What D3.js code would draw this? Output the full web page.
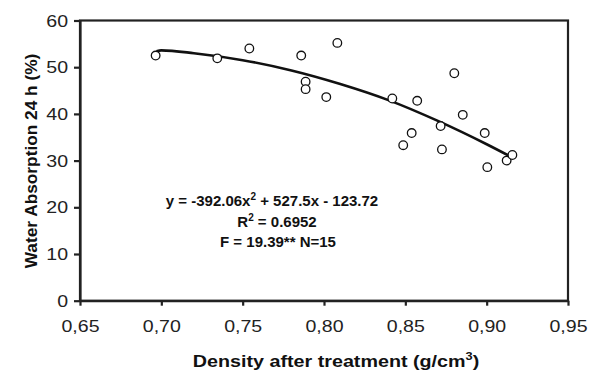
<!DOCTYPE html>
<html>
<head>
  <meta charset="utf-8">
  <title>Water absorption vs density</title>
  <script src="https://cdn.jsdelivr.net/npm/d3@7"></script>
  <style>
    body { margin: 0; background: #fff; }
    svg { display: block; font-family: "Liberation Sans", Arial, sans-serif; }
    .frame { fill: none; stroke: #222; stroke-width: 2.2; }
    .axis path, .axis line { stroke: #222; stroke-width: 2.2; }
    .axis text { font-size: 17px; fill: #222; }
    .dot { fill: #fff; stroke: #111; stroke-width: 1.3; }
    .trend { fill: none; stroke: #111; stroke-width: 2.6; }
    .title { font-weight: bold; fill: #111; }
    .eq { font-weight: bold; fill: #111; font-size: 15px; }
  </style>
</head>
<body>
<script>
// Data
const density = [0.6965, 0.7344, 0.7541, 0.7860, 0.7887, 0.7887, 0.8014, 0.8082, 0.8420, 0.8487,
                 0.8539, 0.8573, 0.8717, 0.8725, 0.8801, 0.8853, 0.8988, 0.9004, 0.9123, 0.9158];
const absorption = [52.5, 51.9, 54.0, 52.5, 46.9, 45.3, 43.6, 55.2, 43.3, 33.3,
                    35.9, 42.8, 37.4, 32.4, 48.7, 39.8, 35.9, 28.6, 30.0, 31.2];

// Fitted curve
const trendX = [0.697, 0.70, 0.72, 0.75, 0.78, 0.81, 0.84, 0.87, 0.90, 0.915];
const trendY = [53.4, 53.6, 53.0, 51.5, 49.3, 46.4, 42.9, 38.5, 33.5, 30.8];

const xTicks = [0.65, 0.70, 0.75, 0.80, 0.85, 0.90, 0.95];
const yTicks = [0, 10, 20, 30, 40, 50, 60];

const eqLines = ["y = -392.06x", "R", "F = 19.39** N=15"];

const w = 600;
const h = 374;
const margin = {top: 20.5, right: 32, bottom: 73.3, left: 80};

const svg = d3.select("body").append("svg")
  .attr("width", w)
  .attr("height", h);

const xScale = d3.scaleLinear()
  .domain([0.65, 0.95])
  .range([margin.left, w - margin.right]);

const yScale = d3.scaleLinear()
  .domain([0, 60])
  .range([h - margin.bottom, margin.top]);

// stretch text horizontally (the scan is wider than plain Arial)
function stretch(sel, sx) {
  sel.each(function() {
    const t = d3.select(this);
    const x = +t.attr("x") || 0;
    const y = +t.attr("y") || 0;
    t.attr("x", 0).attr("y", 0)
      .attr("transform", "translate(" + x + "," + y + ") scale(" + sx + ",1)");
  });
}

// frame
svg.append("rect")
  .attr("class", "frame")
  .attr("x", xScale(0.65))
  .attr("y", yScale(60))
  .attr("width", xScale(0.95) - xScale(0.65))
  .attr("height", yScale(0) - yScale(60));

// axes
const fmt = d => d3.format(".2f")(d).replace(".", ",");

const xAxis = svg.append("g")
  .attr("class", "axis")
  .attr("transform", "translate(0," + yScale(0) + ")")
  .call(d3.axisBottom(xScale).tickValues(xTicks).tickFormat(fmt).tickSize(5).tickPadding(14).tickSizeOuter(0));
stretch(xAxis.selectAll("text"), 1.15);

const yAxis = svg.append("g")
  .attr("class", "axis")
  .attr("transform", "translate(" + xScale(0.65) + ",0)")
  .call(d3.axisLeft(yScale).tickValues(yTicks).tickSize(6).tickPadding(6).tickSizeOuter(0));
yAxis.selectAll("text").attr("dy", "0.33em");
stretch(yAxis.selectAll("text"), 1.15);

// trend curve
const line = d3.line()
  .x((d, i) => xScale(trendX[i]))
  .y(d => yScale(d))
  .curve(d3.curveMonotoneX);

svg.append("path")
  .attr("class", "trend")
  .attr("d", line(trendY));

// points
svg.selectAll(".dot")
  .data(density)
  .enter()
  .append("circle")
  .attr("class", "dot")
  .attr("cx", d => xScale(d))
  .attr("cy", (d, i) => yScale(absorption[i]))
  .attr("r", 4.3);

// equation block
const eq = svg.append("g");
const t1 = eq.append("text").attr("class", "eq")
  .attr("x", 272).attr("y", 206).attr("text-anchor", "middle");
t1.append("tspan").text(eqLines[0]);
t1.append("tspan").attr("dy", -6).attr("font-size", "10px").text("2");
t1.append("tspan").attr("dy", 6).text(" + 527.5x - 123.72");

const t2 = eq.append("text").attr("class", "eq")
  .attr("x", 277).attr("y", 226.5).attr("text-anchor", "middle");
t2.append("tspan").text(eqLines[1]);
t2.append("tspan").attr("dy", -6).attr("font-size", "10px").text("2");
t2.append("tspan").attr("dy", 6).text(" = 0.6952");

eq.append("text").attr("class", "eq")
  .attr("x", 278).attr("y", 247).attr("text-anchor", "middle")
  .text(eqLines[2]);

// axis titles
const xt = svg.append("text")
  .attr("class", "title")
  .attr("x", 336).attr("y", 367)
  .attr("text-anchor", "middle")
  .attr("font-size", "17px");
xt.append("tspan").text("Density after treatment (g/cm");
xt.append("tspan").attr("dy", -7).attr("font-size", "11px").text("3");
xt.append("tspan").attr("dy", 7).text(")");
stretch(xt, 1.16);

svg.append("text")
  .attr("class", "title")
  .attr("font-size", "16px")
  .attr("text-anchor", "middle")
  .attr("transform", "translate(37,161) rotate(-90) scale(1.08,1)")
  .text("Water Absorption 24 h (%)");
</script>
</body>
</html>
